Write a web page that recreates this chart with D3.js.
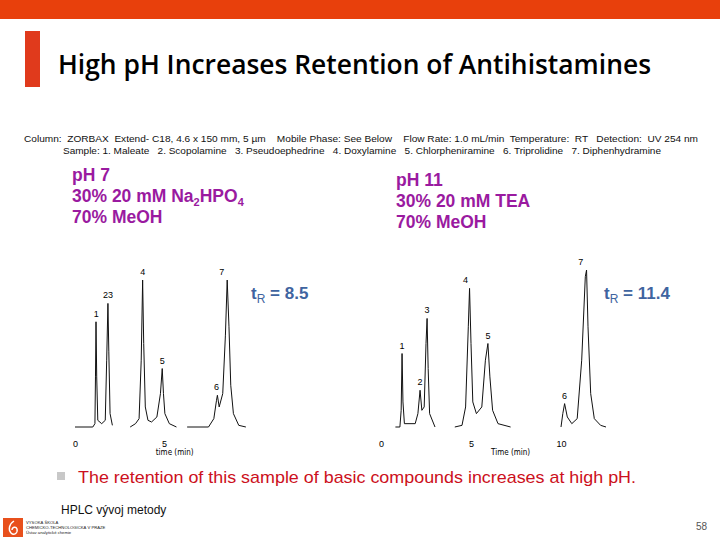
<!DOCTYPE html>
<html>
<head>
<meta charset="utf-8">
<script src="https://cdn.jsdelivr.net/npm/d3@7"></script>
<style>
  body { margin: 0; background: #fff; }
  svg { display: block; font-family: "Liberation Sans", Arial, sans-serif; }
</style>
</head>
<body>
<div id="slide"></div>
<script>
// chromatogram traces: [time (min), detector signal], null = gap in the scan
const tracePH7 = [
  [0, 0], [1.0, 0], [1.12, 2], [1.15, 30], [1.18, 63], [1.22, 30], [1.28, 4], [1.5, 2],
  [1.7, 4], [1.78, 40], [1.85, 74], [1.9, 45], [1.97, 8], [2.1, 1], null,
  [3.1, 0], [3.4, 2], [3.6, 5], [3.72, 40], [3.8, 88], [3.86, 50], [3.95, 12], [4.1, 4],
  [4.3, 3], [4.6, 6], [4.8, 20], [4.9, 35], [4.97, 20], [5.05, 8], [5.3, 2], [5.7, 0], null,
  [6.3, 0], [7.5, 0], [7.8, 5], [7.95, 16], [8.0, 19], [8.1, 12], [8.3, 20], [8.45, 55],
  [8.55, 88], [8.65, 60], [8.75, 25], [8.9, 8], [9.2, 1], [9.6, 0]
];
const tracePH11 = [
  [0.8, 0], [1.05, 0], [1.12, 10], [1.17, 44], [1.22, 15], [1.3, 2], [1.9, 2], [2.05, 8],
  [2.17, 22], [2.27, 10], [2.4, 12], [2.5, 50], [2.56, 65], [2.62, 35], [2.7, 8], [3.0, 0], null,
  [4.1, 0], [4.5, 1], [4.7, 12], [4.85, 60], [4.92, 83], [5.0, 50], [5.1, 15], [5.3, 8],
  [5.6, 12], [5.8, 40], [5.94, 50], [6.05, 30], [6.2, 10], [6.5, 2], [7.2, 0], null,
  [10.0, 0], [10.1, 8], [10.2, 14], [10.35, 6], [10.6, 2], [10.9, 5], [11.15, 40], [11.35, 90],
  [11.42, 94], [11.5, 60], [11.65, 20], [11.85, 5], [12.2, 1], [12.5, 0]
];

// peak labels: [label, time, signal at apex]
const peaksPH7 = [["1", 1.2, 63], ["23", 1.85, 74], ["4", 3.8, 88], ["5", 4.9, 35], ["6", 7.95, 19], ["7", 8.25, 88]];
const peaksPH11 = [["1", 1.17, 44], ["2", 2.17, 22], ["3", 2.56, 65], ["4", 4.7, 83], ["5", 5.94, 50], ["6", 10.2, 14], ["7", 11.1, 94]];

const ticksPH7 = [0, 5];
const ticksPH11 = [0, 5, 10];
const retention = ["8.5", "11.4"];

const sampleLines = [
  "Column:  ZORBAX  Extend- C18, 4.6 x 150 mm, 5 µm    Mobile Phase: See Below    Flow Rate: 1.0 mL/min  Temperature:  RT   Detection:  UV 254 nm",
  "Sample: 1. Maleate   2. Scopolamine   3. Pseudoephedrine   4. Doxylamine   5. Chlorpheniramine   6. Triprolidine   7. Diphenhydramine"
];

const W = 720, H = 540;
const svg = d3.select('#slide').append('svg').attr('width', W).attr('height', H);

// slide frame
svg.append('rect').attr('x', 0).attr('y', 0).attr('width', W).attr('height', 19).attr('fill', '#e8400c');
svg.append('rect').attr('x', 25).attr('y', 31).attr('width', 15).attr('height', 56).attr('fill', '#e03a1c');
svg.append('text').attr('x', 58).attr('y', 74)
  .attr('font-family', '"Open Sans", "Liberation Sans", sans-serif')
  .attr('font-weight', 600).attr('font-size', 27).attr('fill', '#000')
  .attr('textLength', 593).attr('lengthAdjust', 'spacingAndGlyphs')
  .text('High pH Increases Retention of Antihistamines');

svg.append('g').attr('font-size', 9.5).attr('fill', '#111')
  .attr('font-family', '"Liberation Sans Narrow", "Liberation Sans", sans-serif')
  .selectAll('text').data(sampleLines).join('text')
  .attr('xml:space', 'preserve')
  .attr('x', (d, i) => i ? 63 : 24).attr('y', (d, i) => 142 + i * 12)
  .attr('textLength', (d, i) => i ? 598 : 674).attr('lengthAdjust', 'spacingAndGlyphs')
  .text(d => d);

// mobile phase blocks
function phaseBlock(x, y0, lines) {
  const g = svg.append('g').attr('fill', '#9a1aa0').attr('font-weight', 'bold').attr('font-size', 17.5);
  lines.forEach((l, i) => {
    const t = g.append('text').attr('x', x).attr('y', y0 + i * 21);
    l.forEach(part => {
      const ts = t.append('tspan').text(part[0]);
      if (part[1]) ts.attr('font-size', 11).attr('dy', 4);
      else if (part[2]) ts.attr('dy', -4);
    });
  });
}
phaseBlock(72, 181, [[["pH 7"]], [["30% 20 mM Na"], ["2", true], ["HPO", false, true], ["4", true]], [["70% MeOH"]]]);
phaseBlock(396, 186, [[["pH 11"]], [["30% 20 mM TEA"]], [["70% MeOH"]]]);

// chromatograms
const y = d3.scaleLinear().domain([0, 100]).range([427, 260]);

function chromatogram(x, trace, peaks, ticks, xlabel, tr, trX) {
  const line = d3.line().defined(d => d !== null).x(d => x(d[0])).y(d => y(d[1]));
  svg.append('path').datum(trace).attr('d', line)
    .attr('fill', 'none').attr('stroke', '#111').attr('stroke-width', 1);

  svg.append('g').selectAll('text').data(peaks).join('text')
    .attr('x', d => x(d[1])).attr('y', d => y(d[2]) - 5)
    .attr('text-anchor', 'middle').attr('font-size', 9).text(d => d[0]);

  const ax = svg.append('g').attr('transform', 'translate(0,438)')
    .call(d3.axisBottom(x).tickValues(ticks).tickSize(0).tickFormat(d3.format('d')));
  ax.select('.domain').remove();
  ax.selectAll('text').attr('font-size', 9).attr('font-family', '"Liberation Sans", Arial, sans-serif');

  svg.append('text').attr('x', x(xlabel[1])).attr('y', 455).attr('text-anchor', 'middle')
    .attr('font-size', 8).attr('font-family', '"Liberation Sans Narrow", "DejaVu Sans Condensed", sans-serif')
    .text(xlabel[0]);

  const t = svg.append('text').attr('x', trX).attr('y', 299).attr('fill', '#3f64a0')
    .attr('font-weight', 'bold').attr('font-size', 17);
  t.append('tspan').text('t');
  t.append('tspan').attr('font-size', 12).attr('font-weight', 'normal').attr('dy', 4).text('R');
  t.append('tspan').attr('dy', -4).text(' = ' + tr);
}

const x7 = d3.scaleLinear().domain([0, 10]).range([75, 253]);
const x11 = d3.scaleLinear().domain([0, 10]).range([381, 561]);
chromatogram(x7, tracePH7, peaksPH7, ticksPH7, ['time (min)', 5.6], retention[0], 251);
chromatogram(x11, tracePH11, peaksPH11, ticksPH11, ['Time (min)', 7.2], retention[1], 604);

// bullet and conclusion
svg.append('rect').attr('x', 57).attr('y', 472).attr('width', 8).attr('height', 8).attr('fill', '#c8c8c8');
svg.append('text').attr('x', 78).attr('y', 483).attr('font-size', 17).attr('fill', '#cc1020')
  .attr('textLength', 558).attr('lengthAdjust', 'spacingAndGlyphs')
  .text('The retention of this sample of basic compounds increases at high pH.');

// footer
svg.append('text').attr('x', 61).attr('y', 514).attr('font-size', 12).attr('fill', '#111').text('HPLC vývoj metody');
svg.append('rect').attr('x', 3).attr('y', 518).attr('width', 20).attr('height', 19).attr('fill', '#e8501c');
svg.append('path').attr('d', 'M14,521 C9,524 8,530 11,533 C14,536 18,533 17,529 C16,526 12,527 12,530')
  .attr('fill', 'none').attr('stroke', '#fff').attr('stroke-width', 1.4);
const logoText = ['VYSOKÁ ŠKOLA', 'CHEMICKO-TECHNOLOGICKÁ V PRAZE', 'Ústav analytické chemie'];
svg.append('g').attr('font-size', 4.2).attr('fill', '#222').selectAll('text').data(logoText).join('text')
  .attr('x', 26).attr('y', (d, i) => 524 + i * 5).text(d => d);
svg.append('text').attr('x', 707).attr('y', 530).attr('text-anchor', 'end').attr('font-size', 10).attr('fill', '#555').text('58');
</script>
</body>
</html>
